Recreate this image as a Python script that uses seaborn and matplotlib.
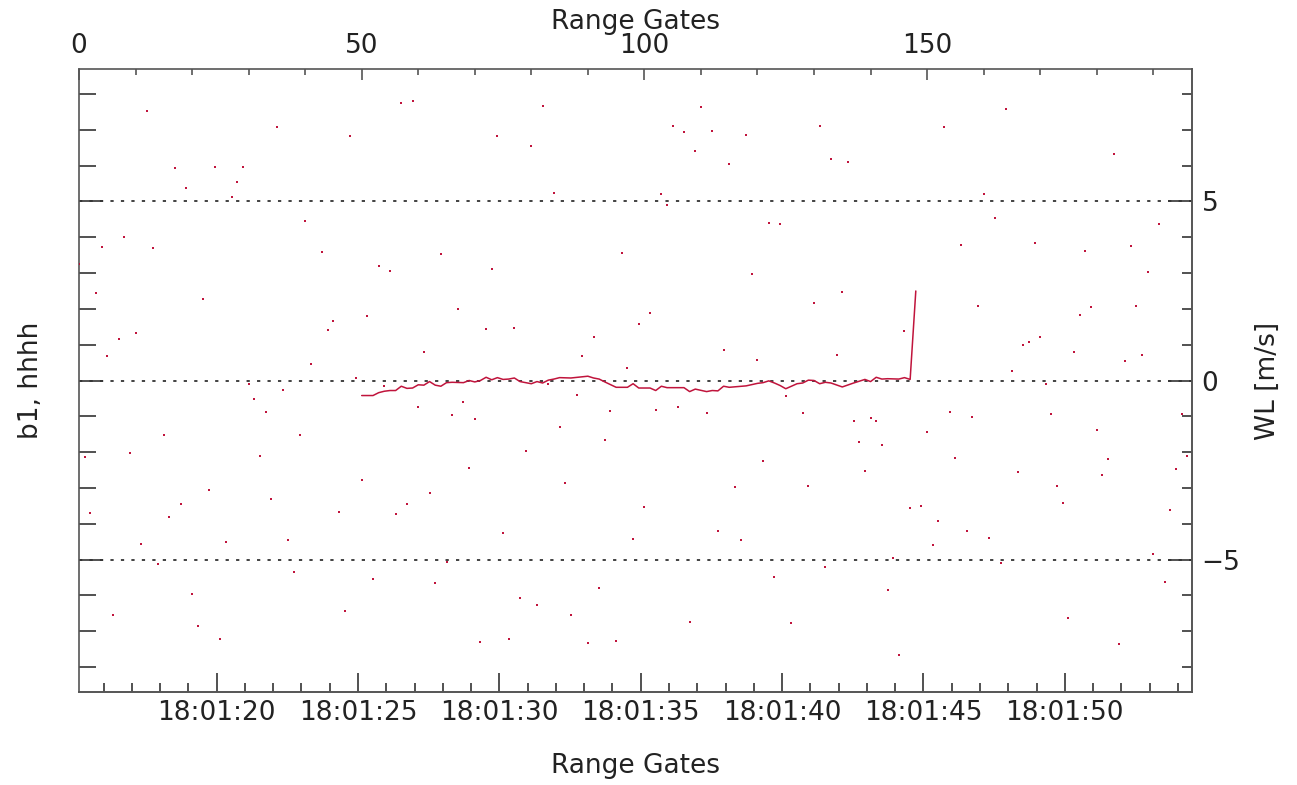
import numpy as np
import seaborn as sns
import matplotlib.pyplot as plt
from matplotlib.ticker import MultipleLocator, FixedLocator, FuncFormatter

sns.set_style("white")
plt.rcParams['font.family'] = ['DejaVu Sans']
plt.rcParams['axes.unicode_minus'] = True
plt.rcParams['text.color'] = '#222222'
plt.rcParams['axes.labelcolor'] = '#222222'

# ---------- data ----------
# scattered single-gate samples (range gate, WL m/s)
dot_gates = [12, 35, 48, 57, 59, 17, 24, 29, 19, 28, 27, 40, 8, 4, 13, 0, 43, 53, 55, 64,
             3, 22, 51, 45, 44, 10, 7, 5, 61, 41, 49,
             82, 74, 80, 110, 105, 107, 112, 118, 109, 115, 131, 84, 103, 104, 122, 124, 96,
             73, 119, 67, 130, 101, 72, 77, 99, 91, 89, 114, 120, 97,
             164, 153, 133, 136, 183, 160, 162, 191, 156, 169, 178, 186, 189, 135, 159, 179,
             187, 177, 146, 170, 167, 168, 176, 134, 188, 185, 165,
             30, 36, 31, 33, 60, 54, 15, 39, 9, 1, 32, 50, 23, 62, 34, 18, 58, 2, 16, 46, 56,
             11, 26, 37, 14, 65, 38, 52, 63, 20, 6, 47, 21, 25,
             83, 88, 68, 66, 70, 94, 102, 106, 111, 125, 128, 85, 93, 79, 69, 121, 86, 116,
             129, 100, 75, 98, 113, 117, 123, 92, 78, 81, 87, 108, 126, 71, 76, 90, 95,
             171, 172, 154, 158, 137, 140, 141, 138, 142, 150, 180, 195, 155, 182, 196, 139,
             166, 181, 194, 173, 174, 147, 149, 193, 152, 157, 161, 151, 144, 190, 132, 163,
             143, 192, 175, 184, 145]
dot_vals = [7.52, 7.08, 6.82, 7.76, 7.80, 5.93, 5.96, 5.96, 5.38, 5.54, 5.13, 4.46, 4.01,
            3.72, 3.70, 3.26, 3.58, 3.20, 3.05, 3.54, 2.45, 2.29, 1.80, 1.66, 1.41, 1.34,
            1.15, 0.68, 0.80, 0.45, 0.08,
            7.67, 6.84, 6.54, 7.63, 7.12, 6.95, 6.98, 6.85, 6.40, 6.06, 7.11, 5.23, 5.20,
            4.89, 4.39, 4.37, 3.57, 3.11, 2.97, 2.00, 2.16, 1.89, 1.44, 1.46, 1.58, 1.21,
            0.69, 0.85, 0.57, 0.36,
            7.58, 7.09, 6.20, 6.11, 6.32, 5.21, 4.53, 4.37, 3.79, 3.85, 3.61, 3.75, 3.04,
            2.48, 2.08, 2.05, 2.08, 1.82, 1.38, 1.21, 0.99, 1.07, 0.79, 0.71, 0.71, 0.54, 0.26,
            -0.10, -0.27, -0.52, -0.89, -0.75, -0.15, -1.53, -1.53, -2.02, -2.15, -2.10,
            -2.77, -3.07, -3.14, -3.31, -3.45, -3.45, -3.71, -3.81, -3.67, -3.73, -4.57,
            -4.52, -4.46, -5.13, -5.07, -5.35, -5.54, -5.66, -5.95, -6.55, -6.44, -6.86, -7.23,
            -0.10, -0.40, -0.59, -0.97, -1.08, -0.84, -0.83, -0.74, -0.92, -0.43, -0.91,
            -1.30, -1.67, -1.96, -2.45, -2.25, -2.85, -2.98, -2.96, -3.54, -4.27, -4.42,
            -4.20, -4.46, -5.49, -5.80, -6.08, -6.28, -6.56, -6.74, -6.77, -7.30, -7.22,
            -7.34, -7.28,
            -0.11, -0.93, -0.88, -1.02, -1.14, -1.05, -1.12, -1.73, -1.80, -1.45, -1.39,
            -0.94, -2.16, -2.18, -2.11, -2.53, -2.56, -2.63, -2.48, -2.95, -3.41, -3.55,
            -3.51, -3.63, -3.93, -4.21, -4.41, -4.60, -4.96, -4.85, -5.22, -5.11, -5.85,
            -5.62, -6.62, -7.35, -7.67]

# continuous WL profile
line_gates = [50, 52, 53, 54, 55, 56, 57, 58, 59, 60, 61, 62, 63, 64, 65, 66, 68, 69, 70,
              71, 72, 73, 74, 75, 76, 77, 78, 80, 81, 82, 83, 84, 85, 87, 90, 91, 92, 93,
              95, 97, 98, 99, 101, 102, 103, 104, 107, 108, 109, 111, 112, 113, 114, 115,
              118, 120, 121, 122, 123, 124, 125, 126, 127, 128, 129, 130, 131, 132, 133,
              135, 137, 139, 140, 141, 142, 143, 145, 146, 147, 148]
line_vals = [-0.42, -0.42, -0.34, -0.30, -0.28, -0.28, -0.16, -0.22, -0.21, -0.12, -0.13,
             -0.03, -0.13, -0.16, -0.06, -0.05, -0.06, 0.00, -0.04, 0.00, 0.09, 0.02, 0.08,
             0.03, 0.04, 0.07, -0.03, -0.09, -0.03, -0.07, 0.01, 0.04, 0.08, 0.07, 0.12,
             0.07, 0.04, -0.04, -0.19, -0.19, -0.09, -0.21, -0.21, -0.28, -0.16, -0.20,
             -0.20, -0.31, -0.24, -0.31, -0.28, -0.29, -0.16, -0.19, -0.15, -0.08, -0.06,
             -0.01, -0.07, -0.14, -0.23, -0.16, -0.09, -0.07, 0.01, 0.00, -0.09, -0.05,
             -0.07, -0.18, -0.07, 0.03, -0.03, 0.09, 0.04, 0.05, 0.04, 0.08, 0.03, 2.50]

ref_levels = [5, 0, -5]
t0 = 15.13          # seconds after 18:01 at gate 0
dt = 0.2            # seconds per gate

red = '#c0143c'
frame = '#555555'
txt = '#222222'

fig = plt.figure(figsize=(12.97, 7.85), dpi=100)
ax = fig.add_axes([79 / 1297, 1 - 692 / 785, 1113 / 1297, 623 / 785])

for lv in ref_levels:
    ax.axhline(lv, color='#333333', lw=1.3, ls=(0, (1.8, 4.0)), zorder=1)

sns.scatterplot(x=dot_gates, y=dot_vals, marker='s', s=4, color=red,
                linewidth=0, ax=ax, zorder=3)
sns.lineplot(x=line_gates, y=line_vals, color=red, lw=1.1, ax=ax,
             estimator=None, sort=False, zorder=4)

ax.set_xlim(0, 196.85)
ax.set_ylim(-8.7, 8.7)

for sp in ax.spines.values():
    sp.set_color(frame)
    sp.set_linewidth(1.2)

# top: range gates
ax.xaxis.set_ticks_position('top')
ax.xaxis.set_label_position('top')
ax.xaxis.set_major_locator(FixedLocator([0, 50, 100, 150]))
ax.xaxis.set_minor_locator(MultipleLocator(10))
ax.tick_params(axis='x', which='major', direction='in', length=8, width=1.2,
               labelsize=19, pad=7, top=True, bottom=False, color=frame,
               labelcolor=txt)
ax.tick_params(axis='x', which='minor', direction='in', length=4.3, width=1.2,
               top=True, bottom=False, color=frame)
ax.set_xlabel("Range Gates", fontsize=19, labelpad=3)

# left: ticks only
ax.yaxis.set_major_locator(FixedLocator(ref_levels))
ax.yaxis.set_minor_locator(MultipleLocator(1))
ax.tick_params(axis='y', which='major', direction='in', length=17, width=1.2,
               left=True, right=False, labelleft=False, color='#333333')
ax.tick_params(axis='y', which='minor', direction='in', length=12, width=1.2,
               left=True, right=False, color='#333333')
ax.set_ylabel("b1, hhhh", fontsize=19, labelpad=22)

# bottom: time
sec_x = ax.secondary_xaxis('bottom', functions=(lambda g: t0 + dt * g,
                                                lambda t: (t - t0) / dt))
sec_x.xaxis.set_major_locator(FixedLocator(list(range(20, 55, 5))))
sec_x.xaxis.set_minor_locator(MultipleLocator(1))
sec_x.xaxis.set_major_formatter(FuncFormatter(lambda t, _: f"18:01:{int(round(t)):02d}"))
sec_x.tick_params(which='major', direction='in', length=13.5, width=1.2,
                  labelsize=19, pad=6, color='#333333', labelcolor=txt)
sec_x.tick_params(which='minor', direction='in', length=6.7, width=1.2, color='#333333')
sec_x.spines['bottom'].set_color(frame)
sec_x.spines['bottom'].set_linewidth(1.2)
sec_x.set_xlabel("Range Gates", fontsize=19, labelpad=19)

# right: WL values
sec_y = ax.secondary_yaxis('right')
sec_y.yaxis.set_major_locator(FixedLocator(ref_levels))
sec_y.yaxis.set_minor_locator(MultipleLocator(1))
sec_y.yaxis.set_major_formatter(FuncFormatter(lambda v, _: f"{v:.0f}".replace('-', '\u2212')))
sec_y.tick_params(which='major', direction='in', length=17, width=1.2,
                  labelsize=19, pad=7, color='#333333', labelcolor=txt)
sec_y.tick_params(which='minor', direction='in', length=7.2, width=1.2, color='#333333')
sec_y.spines['right'].set_color(frame)
sec_y.spines['right'].set_linewidth(1.2)
sec_y.set_ylabel("WL [m/s]", fontsize=19, labelpad=10)

fig.savefig("out.png", dpi=100)
